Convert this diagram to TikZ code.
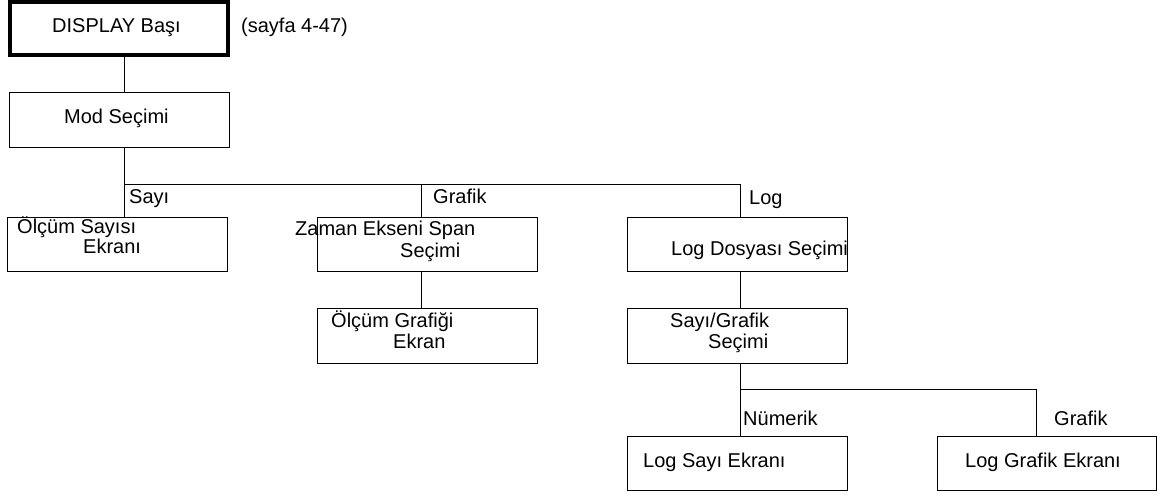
\documentclass[tikz,border=0pt]{standalone}
\usepackage{fontspec}
\setmainfont{Liberation Sans}
\begin{document}
\begin{tikzpicture}[x=1pt,y=-1pt,
  box/.style={draw, line width=1pt, inner sep=0pt, minimum width=220pt, minimum height=54pt},
  txt/.style={anchor=base west, inner sep=0pt, font=\fontsize{20}{24}\selectfont},
  wire/.style={line width=1pt}]
\useasboundingbox (0,0) rectangle (1157,495);
% boxes
\node[box, line width=4pt, minimum width=218pt, minimum height=53pt] (disp) at (119,28.5) {};
\node[box] (mod) at (119,120) {};
\node[box] (ols) at (117,244) {};
\node[box] (zam) at (427,244) {};
\node[box, minimum height=55pt] (olg) at (427,335.5) {};
\node[box] (logd) at (737,244) {};
\node[box, minimum height=55pt] (sg) at (737,335.5) {};
\node[box] (ls) at (737,463) {};
\node[box, minimum width=219pt] (lg) at (1046.5,463) {};
% bus coordinates
\coordinate (b1) at (124,184);
\coordinate (b2) at (421,184);
\coordinate (b3) at (740,184);
\coordinate (c1) at (740,389);
\coordinate (c2) at (1036,389);
% connectors
\draw[wire] (disp.south -| b1) -- (mod.north -| b1);
\draw[wire] (mod.south -| b1) -- (b1) -- (b3);
\draw[wire] (b1) -- (ols.north -| b1);
\draw[wire] (b2) -- (zam.north -| b2);
\draw[wire] (b3) -- (logd.north -| b3);
\draw[wire] (zam.south -| b2) -- (olg.north -| b2);
\draw[wire] (logd.south -| b3) -- (sg.north -| b3);
\draw[wire] (sg.south -| c1) -- (c1) -- (c2);
\draw[wire] (c1) -- (ls.north -| c1);
\draw[wire] (c2) -- (lg.north -| c2);
% texts
\node[txt] (t1) at (52,33) {DISPLAY Başı};
\node[txt] (t2) at (241,33) {(sayfa 4-47)};
\node[txt] (t3) at (64,124) {Mod Seçimi};
\node[txt] (l1) at (129,203) {Sayı};
\node[txt] (l2) at (433,203) {Grafik};
\node[txt] (l3) at (749,204) {Log};
\node[txt] (t4a) at (17,233) {Ölçüm Sayısı};
\node[txt] (t4b) at (83,253) {Ekranı};
\node[txt] (t5a) at (295,235) {Zaman Ekseni Span};
\node[txt] (t5b) at (400,257) {Seçimi};
\node[txt] (t6) at (671,255) {Log Dosyası Seçimi};
\node[txt] (t7a) at (331,327) {Ölçüm Grafiği};
\node[txt] (t7b) at (393,348) {Ekran};
\node[txt] (t8a) at (670,327) {Sayı/Grafik};
\node[txt] (t8b) at (708,348) {Seçimi};
\node[txt] (l4) at (743,425) {Nümerik};
\node[txt] (l5) at (1054,425) {Grafik};
\node[txt] (t9) at (643,467) {Log Sayı Ekranı};
\node[txt] (t10) at (965,467) {Log Grafik Ekranı};
\end{tikzpicture}
\end{document}
